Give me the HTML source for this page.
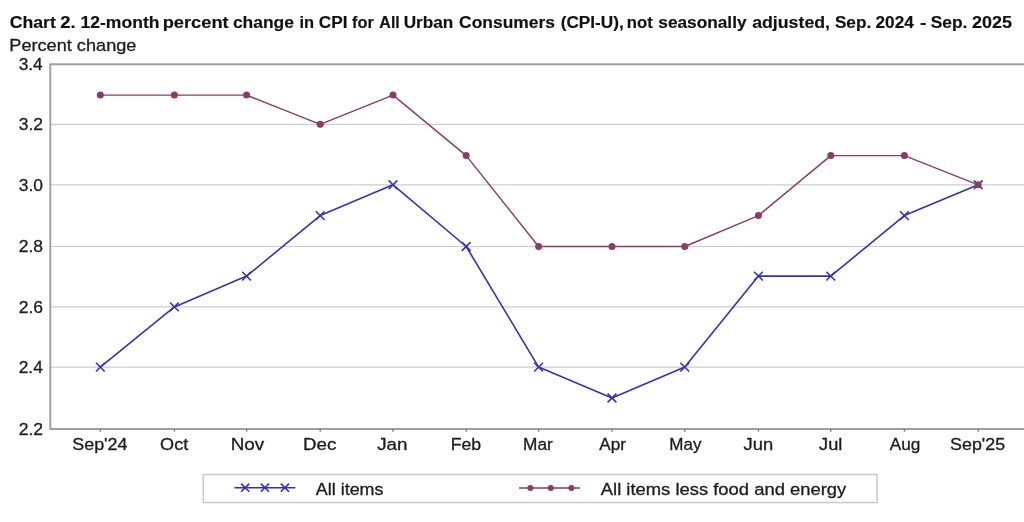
<!DOCTYPE html>
<html lang="en"><head><meta charset="utf-8"><title>Chart 2. 12-month percent change in CPI-U</title>
<style>
html,body{margin:0;padding:0;background:#fff;}
body{width:1024px;height:522px;overflow:hidden;}
svg{display:block;filter:blur(0.45px);}
text{font-family:"Liberation Sans","DejaVu Sans",sans-serif;fill:#1c1c1c;}
.title{font-weight:bold;font-size:15.6px;fill:#111;stroke:#111;stroke-width:0.15px;}
.lab{font-size:16.3px;stroke:#1c1c1c;stroke-width:0.3px;}
.yl{font-size:17.2px;stroke:#1c1c1c;stroke-width:0.3px;}
</style></head><body>
<svg width="1024" height="522" viewBox="0 0 1024 522">
<rect width="1024" height="522" fill="#ffffff"/>
<text class="title" x="9.68" y="28.40" textLength="46.18" lengthAdjust="spacingAndGlyphs">Chart </text>
<text class="title" x="60.23" y="28.40" textLength="15.41" lengthAdjust="spacingAndGlyphs">2. </text>
<text class="title" x="80.51" y="28.40" textLength="78.96" lengthAdjust="spacingAndGlyphs">12-month </text>
<text class="title" x="162.66" y="28.40" textLength="65.97" lengthAdjust="spacingAndGlyphs">percent </text>
<text class="title" x="232.94" y="28.40" textLength="60.97" lengthAdjust="spacingAndGlyphs">change </text>
<text class="title" x="299.50" y="28.40" textLength="14.61" lengthAdjust="spacingAndGlyphs">in </text>
<text class="title" x="318.71" y="28.40" textLength="28.72" lengthAdjust="spacingAndGlyphs">CPI </text>
<text class="title" x="352.14" y="28.40" textLength="21.69" lengthAdjust="spacingAndGlyphs">for </text>
<text class="title" x="379.35" y="28.40" textLength="20.43" lengthAdjust="spacingAndGlyphs">All </text>
<text class="title" x="403.67" y="28.40" textLength="49.66" lengthAdjust="spacingAndGlyphs">Urban </text>
<text class="title" x="459.13" y="28.40" textLength="95.76" lengthAdjust="spacingAndGlyphs">Consumers </text>
<text class="title" x="560.70" y="28.40" textLength="63.01" lengthAdjust="spacingAndGlyphs">(CPI-U), </text>
<text class="title" x="626.82" y="28.40" textLength="25.90" lengthAdjust="spacingAndGlyphs">not </text>
<text class="title" x="658.39" y="28.40" textLength="88.14" lengthAdjust="spacingAndGlyphs">seasonally </text>
<text class="title" x="752.15" y="28.40" textLength="77.90" lengthAdjust="spacingAndGlyphs">adjusted, </text>
<text class="title" x="834.92" y="28.40" textLength="36.28" lengthAdjust="spacingAndGlyphs">Sep. </text>
<text class="title" x="875.54" y="28.40" textLength="38.29" lengthAdjust="spacingAndGlyphs">2024 </text>
<text class="title" x="920.05" y="28.40" textLength="6.37" lengthAdjust="spacingAndGlyphs">- </text>
<text class="title" x="930.68" y="28.40" textLength="36.79" lengthAdjust="spacingAndGlyphs">Sep. </text>
<text class="title" x="972.05" y="28.40" textLength="40.02" lengthAdjust="spacingAndGlyphs">2025 </text>
<text class="lab" x="9.29" y="50.70" textLength="127.14" lengthAdjust="spacingAndGlyphs">Percent change</text>
<line x1="50" y1="124.30" x2="1024" y2="124.30" stroke="#cdcdcd" stroke-width="1.2"/>
<line x1="50" y1="184.80" x2="1024" y2="184.80" stroke="#cdcdcd" stroke-width="1.2"/>
<line x1="50" y1="246.50" x2="1024" y2="246.50" stroke="#cdcdcd" stroke-width="1.2"/>
<line x1="50" y1="306.90" x2="1024" y2="306.90" stroke="#cdcdcd" stroke-width="1.2"/>
<line x1="50" y1="367.10" x2="1024" y2="367.10" stroke="#cdcdcd" stroke-width="1.2"/>
<line x1="49.5" y1="64.3" x2="1024" y2="64.3" stroke="#9e9e9e" stroke-width="2"/>
<line x1="49.5" y1="429.1" x2="1024" y2="429.1" stroke="#9e9e9e" stroke-width="2"/>
<line x1="50.3" y1="64.3" x2="50.3" y2="429.1" stroke="#9e9e9e" stroke-width="1.9"/>
<text class="yl" x="18.70" y="70.10" textLength="24.07" lengthAdjust="spacingAndGlyphs">3.4</text>
<text class="yl" x="18.69" y="130.10" textLength="24.36" lengthAdjust="spacingAndGlyphs">3.2</text>
<text class="yl" x="18.70" y="190.60" textLength="24.24" lengthAdjust="spacingAndGlyphs">3.0</text>
<text class="yl" x="18.68" y="252.30" textLength="24.34" lengthAdjust="spacingAndGlyphs">2.8</text>
<text class="yl" x="18.68" y="312.70" textLength="24.34" lengthAdjust="spacingAndGlyphs">2.6</text>
<text class="yl" x="18.68" y="372.90" textLength="24.12" lengthAdjust="spacingAndGlyphs">2.4</text>
<text class="yl" x="18.68" y="434.60" textLength="24.37" lengthAdjust="spacingAndGlyphs">2.2</text>
<line x1="100.30" y1="429.1" x2="100.30" y2="431.70000000000005" stroke="#7a7a7a" stroke-width="1.4"/>
<text class="lab" x="72.27" y="449.80" textLength="55.16" lengthAdjust="spacingAndGlyphs">Sep'24</text>
<line x1="174.40" y1="429.1" x2="174.40" y2="431.70000000000005" stroke="#7a7a7a" stroke-width="1.4"/>
<text class="lab" x="160.14" y="449.80" textLength="28.08" lengthAdjust="spacingAndGlyphs">Oct</text>
<line x1="246.60" y1="429.1" x2="246.60" y2="431.70000000000005" stroke="#7a7a7a" stroke-width="1.4"/>
<text class="lab" x="230.69" y="449.80" textLength="33.57" lengthAdjust="spacingAndGlyphs">Nov</text>
<line x1="320.20" y1="429.1" x2="320.20" y2="431.70000000000005" stroke="#7a7a7a" stroke-width="1.4"/>
<text class="lab" x="303.07" y="449.80" textLength="33.28" lengthAdjust="spacingAndGlyphs">Dec</text>
<line x1="393.00" y1="429.1" x2="393.00" y2="431.70000000000005" stroke="#7a7a7a" stroke-width="1.4"/>
<text class="lab" x="377.24" y="449.80" textLength="30.23" lengthAdjust="spacingAndGlyphs">Jan</text>
<line x1="466.20" y1="429.1" x2="466.20" y2="431.70000000000005" stroke="#7a7a7a" stroke-width="1.4"/>
<text class="lab" x="450.76" y="449.80" textLength="30.36" lengthAdjust="spacingAndGlyphs">Feb</text>
<line x1="538.60" y1="429.1" x2="538.60" y2="431.70000000000005" stroke="#7a7a7a" stroke-width="1.4"/>
<text class="lab" x="523.14" y="449.80" textLength="29.71" lengthAdjust="spacingAndGlyphs">Mar</text>
<line x1="612.00" y1="429.1" x2="612.00" y2="431.70000000000005" stroke="#7a7a7a" stroke-width="1.4"/>
<text class="lab" x="599.23" y="449.80" textLength="26.64" lengthAdjust="spacingAndGlyphs">Apr</text>
<line x1="684.80" y1="429.1" x2="684.80" y2="431.70000000000005" stroke="#7a7a7a" stroke-width="1.4"/>
<text class="lab" x="669.35" y="449.80" textLength="32.17" lengthAdjust="spacingAndGlyphs">May</text>
<line x1="758.40" y1="429.1" x2="758.40" y2="431.70000000000005" stroke="#7a7a7a" stroke-width="1.4"/>
<text class="lab" x="743.49" y="449.80" textLength="29.66" lengthAdjust="spacingAndGlyphs">Jun</text>
<line x1="830.80" y1="429.1" x2="830.80" y2="431.70000000000005" stroke="#7a7a7a" stroke-width="1.4"/>
<text class="lab" x="819.10" y="449.80" textLength="23.31" lengthAdjust="spacingAndGlyphs">Jul</text>
<line x1="904.40" y1="429.1" x2="904.40" y2="431.70000000000005" stroke="#7a7a7a" stroke-width="1.4"/>
<text class="lab" x="889.81" y="449.80" textLength="30.57" lengthAdjust="spacingAndGlyphs">Aug</text>
<line x1="978.20" y1="429.1" x2="978.20" y2="431.70000000000005" stroke="#7a7a7a" stroke-width="1.4"/>
<text class="lab" x="950.13" y="449.80" textLength="54.95" lengthAdjust="spacingAndGlyphs">Sep'25</text>
<polyline points="100.30,367.10 174.40,306.90 246.60,276.10 320.20,215.60 393.00,184.80 466.20,246.50 538.60,367.10 612.00,398.00 684.80,367.10 758.40,276.10 830.80,276.10 904.40,215.60 978.20,184.80" fill="none" stroke="#3431b8" stroke-width="1.6" stroke-linejoin="round"/>
<path d="M95.90 362.70L104.70 371.50M95.90 371.50L104.70 362.70" stroke="#3431b8" stroke-width="1.6" fill="none"/>
<path d="M170.00 302.50L178.80 311.30M170.00 311.30L178.80 302.50" stroke="#3431b8" stroke-width="1.6" fill="none"/>
<path d="M242.20 271.70L251.00 280.50M242.20 280.50L251.00 271.70" stroke="#3431b8" stroke-width="1.6" fill="none"/>
<path d="M315.80 211.20L324.60 220.00M315.80 220.00L324.60 211.20" stroke="#3431b8" stroke-width="1.6" fill="none"/>
<path d="M388.60 180.40L397.40 189.20M388.60 189.20L397.40 180.40" stroke="#3431b8" stroke-width="1.6" fill="none"/>
<path d="M461.80 242.10L470.60 250.90M461.80 250.90L470.60 242.10" stroke="#3431b8" stroke-width="1.6" fill="none"/>
<path d="M534.20 362.70L543.00 371.50M534.20 371.50L543.00 362.70" stroke="#3431b8" stroke-width="1.6" fill="none"/>
<path d="M607.60 393.60L616.40 402.40M607.60 402.40L616.40 393.60" stroke="#3431b8" stroke-width="1.6" fill="none"/>
<path d="M680.40 362.70L689.20 371.50M680.40 371.50L689.20 362.70" stroke="#3431b8" stroke-width="1.6" fill="none"/>
<path d="M754.00 271.70L762.80 280.50M754.00 280.50L762.80 271.70" stroke="#3431b8" stroke-width="1.6" fill="none"/>
<path d="M826.40 271.70L835.20 280.50M826.40 280.50L835.20 271.70" stroke="#3431b8" stroke-width="1.6" fill="none"/>
<path d="M900.00 211.20L908.80 220.00M900.00 220.00L908.80 211.20" stroke="#3431b8" stroke-width="1.6" fill="none"/>
<path d="M973.80 180.40L982.60 189.20M973.80 189.20L982.60 180.40" stroke="#3431b8" stroke-width="1.6" fill="none"/>
<polyline points="100.30,95.10 174.40,95.10 246.60,95.10 320.20,124.30 393.00,95.10 466.20,155.60 538.60,246.50 612.00,246.50 684.80,246.50 758.40,215.60 830.80,155.60 904.40,155.60 978.20,184.80" fill="none" stroke="#8a3d64" stroke-width="1.45" stroke-linejoin="round"/>
<circle cx="100.30" cy="95.10" r="3.5" fill="#8a3d64"/>
<circle cx="174.40" cy="95.10" r="3.5" fill="#8a3d64"/>
<circle cx="246.60" cy="95.10" r="3.5" fill="#8a3d64"/>
<circle cx="320.20" cy="124.30" r="3.5" fill="#8a3d64"/>
<circle cx="393.00" cy="95.10" r="3.5" fill="#8a3d64"/>
<circle cx="466.20" cy="155.60" r="3.5" fill="#8a3d64"/>
<circle cx="538.60" cy="246.50" r="3.5" fill="#8a3d64"/>
<circle cx="612.00" cy="246.50" r="3.5" fill="#8a3d64"/>
<circle cx="684.80" cy="246.50" r="3.5" fill="#8a3d64"/>
<circle cx="758.40" cy="215.60" r="3.5" fill="#8a3d64"/>
<circle cx="830.80" cy="155.60" r="3.5" fill="#8a3d64"/>
<circle cx="904.40" cy="155.60" r="3.5" fill="#8a3d64"/>
<circle cx="978.20" cy="184.80" r="3.5" fill="#8a3d64"/>
<rect x="203.3" y="474.5" width="673.7" height="28" fill="#fff" stroke="#c8c8c8" stroke-width="1.5"/>
<line x1="234.4" y1="487.7" x2="295.4" y2="487.7" stroke="#3431b8" stroke-width="1.5"/>
<path d="M241.10 483.60L249.30 491.80M241.10 491.80L249.30 483.60" stroke="#3431b8" stroke-width="1.6" fill="none"/>
<path d="M260.80 483.60L269.00 491.80M260.80 491.80L269.00 483.60" stroke="#3431b8" stroke-width="1.6" fill="none"/>
<path d="M280.80 483.60L289.00 491.80M280.80 491.80L289.00 483.60" stroke="#3431b8" stroke-width="1.6" fill="none"/>
<text class="lab" x="315.82" y="495.00" textLength="67.65" lengthAdjust="spacingAndGlyphs">All items</text>
<line x1="519" y1="488" x2="580" y2="488" stroke="#8a3d64" stroke-width="1.4"/>
<circle cx="530.4" cy="488" r="3" fill="#8a3d64"/>
<circle cx="550.8" cy="488" r="3" fill="#8a3d64"/>
<circle cx="571.4" cy="488" r="3" fill="#8a3d64"/>
<text class="lab" x="600.82" y="495.00" textLength="245.41" lengthAdjust="spacingAndGlyphs">All items less food and energy</text>
</svg>
</body></html>
